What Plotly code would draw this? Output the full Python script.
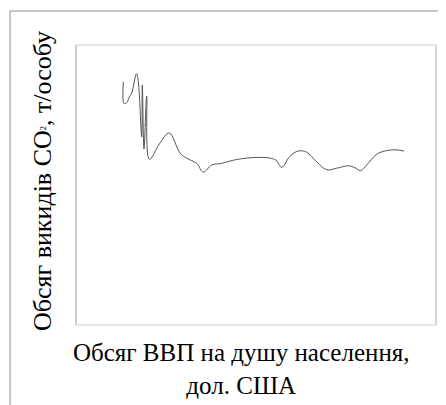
import plotly.graph_objects as go

# GDP per capita, USD (x) and CO2 emissions per capita, t/person (y)
gdp = [4730, 4800, 5070, 5330, 5570, 6050, 6230, 6570, 6630, 6800, 7070, 7330,
       8400, 9330, 10400, 11070, 12070, 12730, 13570, 14570, 15730, 17400, 19230,
       20000, 20570, 21400, 22230, 23070, 24070, 25070, 26070, 27230, 27900,
       28470, 29070, 30070, 31070, 31900, 32800]
co2 = [30.4, 27.7, 27.8, 28.5, 29.0, 31.4, 30.4, 23.5, 30.0, 22.0, 28.6, 20.7,
       22.75, 24.0, 21.5, 20.85, 20.2, 19.1, 20.0, 20.2, 20.6, 20.9, 20.9,
       20.6, 19.7, 21.1, 21.75, 21.6, 20.4, 19.4, 19.6, 19.9, 19.65,
       19.3, 20.0, 21.35, 21.8, 21.9, 21.75]

x_title = "Обсяг ВВП на душу населення,<br>дол. США"
y_title = "Обсяг викидів CO<span style='font-size:12px'><sup>2</sup></span>, т/особу"

OFF = 8  # page body margin
W, H = 446 - OFF, 405 - OFF
L, R, T, B = 76 - OFF, 10, 45 - OFF, 80
pw, ph = W - L - R, H - T - B

def px(x):
    return (x - OFF - L) / pw

def py(y):
    return (H - B - (y - OFF)) / ph

fig = go.Figure()
fig.add_trace(go.Scatter(
    x=gdp, y=co2, mode="lines",
    line=dict(color="#555555", width=1, shape="spline", smoothing=1),
    hoverinfo="skip", showlegend=False,
))

font_x = dict(family="Liberation Serif, Times New Roman, serif", size=25, color="#000")
font_y = dict(family="Liberation Serif, Times New Roman, serif", size=26, color="#000")

fig.update_layout(
    width=W, height=H,
    margin=dict(l=L, r=R, t=T, b=B),
    paper_bgcolor="white", plot_bgcolor="white",
    xaxis=dict(range=[0, 36000], showgrid=False, zeroline=False, showticklabels=False,
               ticks="", showline=False),
    yaxis=dict(range=[0, 35], showgrid=False, zeroline=False, showticklabels=False,
               ticks="", showline=False),
    shapes=[
        dict(type="line", xref="paper", yref="paper", x0=0, x1=1, y0=1, y1=1,
             line=dict(color="#e6e6e6", width=2)),
        dict(type="line", xref="paper", yref="paper", x0=0, x1=1, y0=0, y1=0,
             line=dict(color="#e6e6e6", width=2)),
        dict(type="line", xref="paper", yref="paper", x0=1, x1=1, y0=0, y1=1,
             line=dict(color="#d6d6d6", width=2)),
        dict(type="line", xref="paper", yref="paper", x0=0, x1=0, y0=0, y1=1,
             line=dict(color="#bdbdbd", width=1.5)),
        dict(type="line", xref="paper", yref="paper", x0=px(10), x1=px(460),
             y0=py(11), y1=py(11), line=dict(color="#8c8c8c", width=1)),
        dict(type="line", xref="paper", yref="paper", x0=px(10), x1=px(10),
             y0=py(11), y1=py(420), line=dict(color="#8c8c8c", width=1)),
    ],
    annotations=[
        dict(text=x_title, xref="paper", yref="paper", x=px(241), y=py(369),
             xanchor="center", yanchor="middle", showarrow=False, font=font_x),
        dict(text=y_title, xref="paper", yref="paper", x=px(42), y=py(181),
             xanchor="center", yanchor="middle", showarrow=False, textangle=-90,
             font=font_y),
    ],
)

fig.write_html("out.html")
